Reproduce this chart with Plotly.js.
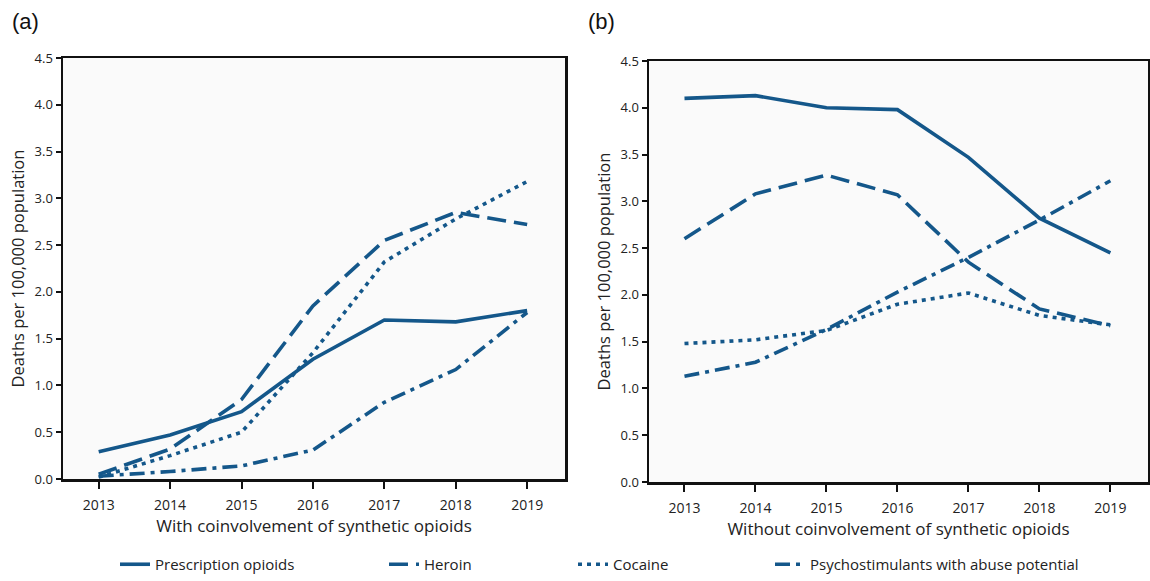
<!DOCTYPE html>
<html>
<head>
<meta charset="utf-8">
<script src="https://cdn.plot.ly/plotly-3.0.1.min.js"></script>
<style>html,body{margin:0;padding:0;background:#fff}#chart{width:1150px;height:581px}</style>
</head>
<body>
<div id="chart"></div>
<script>
const years = [2013, 2014, 2015, 2016, 2017, 2018, 2019];
const seriesNames = ["Prescription opioids", "Heroin", "Cocaine", "Psychostimulants with abuse potential"];
// Panel (a): with coinvolvement of synthetic opioids
const withPrescription = [0.29, 0.47, 0.72, 1.28, 1.70, 1.68, 1.80];
const withHeroin = [0.05, 0.32, 0.85, 1.85, 2.55, 2.85, 2.72];
const withCocaine = [0.02, 0.25, 0.50, 1.35, 2.32, 2.78, 3.18];
const withPsychostim = [0.03, 0.08, 0.14, 0.31, 0.82, 1.17, 1.78];
// Panel (b): without coinvolvement of synthetic opioids
const withoutPrescription = [4.10, 4.13, 4.00, 3.98, 3.47, 2.82, 2.45];
const withoutHeroin = [2.60, 3.08, 3.28, 3.07, 2.35, 1.85, 1.67];
const withoutCocaine = [1.48, 1.52, 1.62, 1.90, 2.02, 1.78, 1.68];
const withoutPsychostim = [1.13, 1.28, 1.63, 2.03, 2.40, 2.80, 3.22];
const yTicks = [0, 0.5, 1.0, 1.5, 2.0, 2.5, 3.0, 3.5, 4.0, 4.5];
const panelA = "With coinvolvement of synthetic opioids";
const panelB = "Without coinvolvement of synthetic opioids";
const yTitle = "Deaths per 100,000 population";

const color = "#14578a";
const dashes = ["solid", "19px,8px", "4px,5px", "15px,6px,4px,6px"];
const legends = ["legend", "legend2", "legend3", "legend4"];
const dataA = [withPrescription, withHeroin, withCocaine, withPsychostim];
const dataB = [withoutPrescription, withoutHeroin, withoutCocaine, withoutPsychostim];

const traces = [];
dataA.forEach((ys, i) => traces.push({
  x: years, y: ys, type: "scatter", mode: "lines", name: seriesNames[i],
  line: {color: color, width: 3.6, dash: dashes[i]},
  xaxis: "x", yaxis: "y", legend: legends[i], showlegend: true
}));
dataB.forEach((ys, i) => traces.push({
  x: years, y: ys, type: "scatter", mode: "lines", name: seriesNames[i],
  line: {color: color, width: 3.6, dash: dashes[i]},
  xaxis: "x2", yaxis: "y2", showlegend: false
}));

const fam = "Open Sans, Noto Sans, sans-serif";
const txt = "#222";
function xax(domain, title, anchor) {
  return {
    domain: domain, anchor: anchor, range: [2012.5, 2019.53],
    tickvals: years, ticks: "outside", ticklen: 7, tickwidth: 2, tickcolor: "#111",
    ticklabelstandoff: 5,
    showline: true, mirror: true, linecolor: "#111", linewidth: 2.5,
    showgrid: false, zeroline: false, fixedrange: true, automargin: false,
    tickfont: {family: fam, size: 14, color: txt},
    title: {text: title, standoff: 3, font: {family: fam, size: 17, color: txt}}
  };
}
function yax(domain, anchor) {
  return {
    domain: domain, anchor: anchor, range: [0, 4.5],
    tickvals: yTicks, tickformat: ".1f", ticks: "outside", ticklen: 5, tickwidth: 2, tickcolor: "#111",
    showline: true, mirror: true, linecolor: "#111", linewidth: 2.5,
    showgrid: false, zeroline: false, fixedrange: true, automargin: false,
    tickfont: {family: fam, size: 13, color: txt},
    title: {text: yTitle, standoff: 6, font: {family: fam, size: 16.5, color: txt}}
  };
}
function leg(x) {
  return {x: x, y: 0.0, xref: "paper", yref: "paper", xanchor: "left", yanchor: "bottom",
    orientation: "h", bgcolor: "rgba(0,0,0,0)", font: {family: fam, size: 15, color: txt},
    itemwidth: 30, borderwidth: 0};
}

const layout = {
  width: 1150, height: 581,
  margin: {l: 0, r: 0, t: 0, b: 0, autoexpand: false},
  paper_bgcolor: "#ffffff", plot_bgcolor: "#fafafa",
  font: {family: fam, size: 13, color: txt},
  xaxis: xax([63/1150, 565/1150], panelA, "y"),
  yaxis: yax([(581-479)/581, (581-58)/581], "x"),
  xaxis2: xax([649/1150, 1148/1150], panelB, "y2"),
  yaxis2: yax([(581-482)/581, (581-61)/581], "x2"),
  legend: leg(115/1150), legend2: leg(384/1150), legend3: leg(573/1150), legend4: leg(770/1150),
  annotations: [
    {text: "(a)", x: 10/1150, y: (581-22)/581, xref: "paper", yref: "paper", xanchor: "left", yanchor: "middle",
      showarrow: false, font: {family: "Liberation Sans, Arial, sans-serif", size: 22, color: "#111"}},
    {text: "(b)", x: 586/1150, y: (581-22)/581, xref: "paper", yref: "paper", xanchor: "left", yanchor: "middle",
      showarrow: false, font: {family: "Liberation Sans, Arial, sans-serif", size: 22, color: "#111"}}
  ]
};
Plotly.newPlot("chart", traces, layout, {displayModeBar: false, staticPlot: true});
</script>
</body>
</html>
